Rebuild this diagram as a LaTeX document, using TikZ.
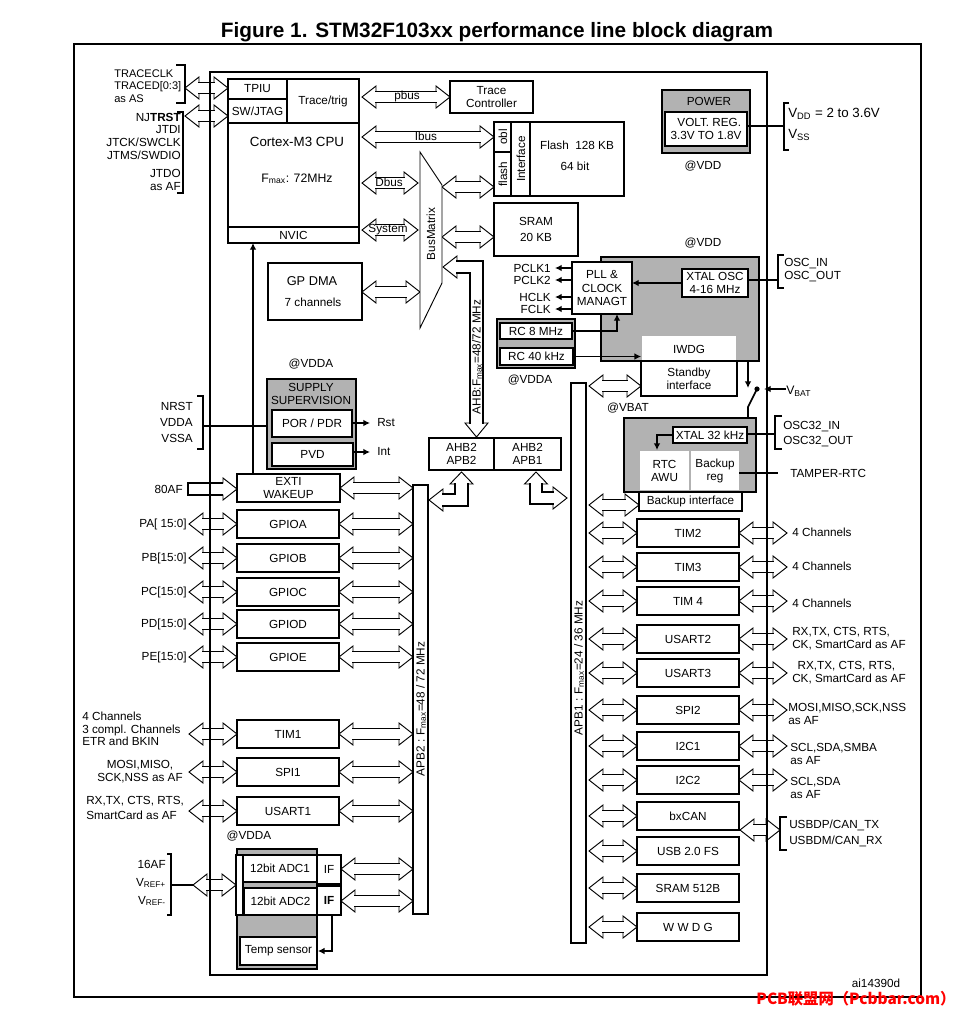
\documentclass[tikz,border=0pt]{standalone}
\usepackage{fontspec}
\setmainfont{Liberation Sans}
\newfontfamily\cjkfont{Noto Sans CJK SC}
\usetikzlibrary{arrows.meta}
\definecolor{gfill}{RGB}{178,178,178}
\newcommand\myfs{\fontsize{8.8}{9.8}\selectfont}
\newcommand\mybox[7][]{\node[box,#1,minimum width={((#5)-(#3))*0.75pt},minimum height={((#6)-(#4))*0.75pt}] (#2) at ({((#3)+(#5))/2},{((#4)+(#6))/2}) {#7};}
\newcommand\hbus[3]{%
 \path[busarr] (#1,#3) -- ({#1+14},{#3-11}) -- ({#1+14},{#3-5.5}) -- ({#2-14},{#3-5.5}) -- ({#2-14},{#3-11}) -- (#2,#3) -- ({#2-14},{#3+11}) -- ({#2-14},{#3+5.5}) -- ({#1+14},{#3+5.5}) -- ({#1+14},{#3+11}) -- cycle;
 \draw[shaft] ({#1+13},{#3-5.5}) -- ({#2-13},{#3-5.5}) ({#1+13},{#3+5.5}) -- ({#2-13},{#3+5.5});}
\begin{document}
\begin{tikzpicture}[x=0.75pt,y=-0.75pt,
 box/.style={draw,line width=1.3pt,fill=white,inner sep=0pt,align=center,font=\myfs},
 lbl/.style={inner sep=0pt,align=center,font=\myfs},
 busarr/.style={draw,fill=white,line width=0.7pt,line join=miter},
 shaft/.style={line width=1.4pt},
 frame/.style={line width=1.4pt},
 wire/.style={line width=1.2pt},
 sig/.style={line width=1.2pt,-{Latex[length=5pt,width=5pt]}},
 brk/.style={line width=1.3pt}]
\useasboundingbox (0,0) rectangle (959,1010);

\node[font=\bfseries\fontsize{15.6}{18}\selectfont,inner sep=0] (title) at (497,32) {Figure 1. STM32F103xx performance line block diagram};
\draw[frame] (74,44) rectangle (921,997);

% ---------- block arrows ----------
\hbus{185}{228}{88}
\hbus{185}{228}{116}
\hbus{362}{450}{97}
\hbus{362}{494}{137}
\hbus{362}{418}{183}
\hbus{362}{418}{230}
\hbus{442}{494}{187}
\hbus{442}{494}{237}
\hbus{362}{420}{292}
\hbus{340}{413}{488}
\hbus{589}{641}{386}
\hbus{589}{639}{505}
\hbus{193}{236}{885}
\hbus{341}{413}{869}
\hbus{341}{413}{901}
\hbus{740}{780}{830}
\foreach \y in {533,567,601,639,673,710,746,780} {\hbus{739}{787}{\y}}
\foreach \y in {524,558,592,624,657,734,772,811} {\hbus{189}{237}{\y}\hbus{339}{413}{\y}}
\foreach \y in {533,567,601,639,673,710,746,780,816,851,888,927} {\hbus{589}{637}{\y}}

% 80AF single arrow
\path[busarr] (188,483) -- (223,483) -- (223,478) -- (237,489) -- (223,500) -- (223,495) -- (188,495) -- cycle;
\draw[shaft] (223,483) -- (188,483) -- (188,495) -- (223,495);

% AHB L arrow
\path[busarr] (443,267) -- (457,256) -- (457,261) -- (483,261) -- (483,423) -- (488,423) -- (476.5,437) -- (465,423) -- (470,423) -- (470,273) -- (457,273) -- (457,278) -- cycle;
\draw[shaft] (456,261) -- (483,261) -- (483,424) (456,273) -- (470,273) -- (470,424);
% APB2 L arrow
\path[busarr] (461.5,472) -- (473,484) -- (468,484) -- (468,506) -- (443,506) -- (443,511) -- (429,500) -- (443,489) -- (443,494) -- (455,494) -- (455,484) -- (450,484) -- cycle;
\draw[shaft] (468,483) -- (468,506) -- (442,506) (455,483) -- (455,494) -- (442,494);
% APB1 L arrow
\path[busarr] (536,472) -- (547.5,484) -- (542,484) -- (542,492) -- (553,492) -- (553,487) -- (567,498) -- (553,509) -- (553,504) -- (530,504) -- (530,484) -- (524.5,484) -- cycle;
\draw[shaft] (542,483) -- (542,492) -- (554,492) (530,483) -- (530,504) -- (554,504);

% ---------- CPU ----------
\mybox{tpiu}{228}{79}{287}{99}{TPIU}
\mybox{swj}{228}{99}{287}{123}{SW/JTAG}
\mybox{trc}{287}{79}{359}{123}{Trace/trig}
\mybox{cpu}{228}{123}{359}{227}{}
\mybox{nvic}{228}{227}{359}{243}{NVIC}
\node[lbl,font=\fontsize{10}{12}\selectfont] (cpun) at (297,142) {Cortex-M3 CPU};
\node[lbl,font=\fontsize{9.2}{11}\selectfont] (fmax) at (297,179) {F\textsubscript{max}: 72MHz};

\node[lbl,align=left,anchor=west,font=\fontsize{8.3}{9.4}\selectfont] (trl) at (114,86) {TRACECLK\\TRACED[0:3]\\as AS};
\draw[brk] (176,65) -- (185,65) -- (185,103) -- (176,103);
\node[lbl,anchor=east] (j1) at (181,117) {NJ\textbf{TRST}};
\node[lbl,anchor=east] (j2) at (181,130) {JTDI};
\node[lbl,anchor=east] (j3) at (181,142) {JTCK/SWCLK};
\node[lbl,anchor=east] (j4) at (181,155) {JTMS/SWDIO};
\node[lbl,anchor=east] (j5) at (181,173) {JTDO};
\node[lbl,anchor=east] (j6) at (181,187) {as AF};
\draw[brk] (177,112) -- (183,112) -- (183,193) -- (177,193);

\mybox{tctl}{450}{81}{533}{113}{Trace\\Controller}
\node[lbl] (pbus) at (407,96) {pbus};
\node[lbl] (ibus) at (426,136) {Ibus};
\node[lbl] (dbus) at (389,182) {Dbus};
\node[lbl] (sysb) at (388,230) {System};

% Flash
\mybox{flash}{494}{122}{624}{196}{}
\mybox{obl}{494}{122}{511}{152}{}
\mybox{fl}{494}{152}{511}{196}{}
\mybox{intf}{511}{122}{530}{196}{}
\node[lbl,rotate=90] (oblt) at (503,137) {obl};
\node[lbl,rotate=90] (flt) at (503,174) {flash};
\node[lbl,rotate=90] (intt) at (521,159) {Interface};
\node[lbl] (flasht) at (577,145) {Flash\ \ 128 KB};
\node[lbl] (flasht2) at (575,166) {64 bit};

% BusMatrix
\draw[line width=0.7pt,fill=white] (420,152) -- (442,185) -- (442,283) -- (420,328) -- cycle;
\node[lbl,rotate=90] (busm) at (431,234) {BusMatrix};
\node[lbl,rotate=90] (ahbl) at (477,357) {AHB:F\textsubscript{max}=48/72 MHz};

\mybox{sram}{494}{203}{578}{256}{SRAM\\[2.5pt]20 KB}
\mybox{dma}{268}{263}{362}{320}{}
\node[lbl,font=\fontsize{9.6}{11}\selectfont] (dmat) at (312,281) {GP DMA};
\node[lbl] (dmat2) at (313,302) {7 channels};

% bridges
\mybox{br2}{429}{438}{494}{470}{AHB2\\APB2}
\mybox{br1}{494}{438}{561}{470}{AHB2\\APB1}

% bus columns
\mybox[line width=1pt]{apb2}{413}{485}{428}{914}{}
\node[lbl,rotate=90] (apb2t) at (421,709) {APB2 : F\textsubscript{max}=48 / 72 MHz};
\mybox[line width=1pt]{apb1}{571}{383}{586}{943}{}
\node[lbl,rotate=90] (apb1t) at (579,668) {APB1 : F\textsubscript{max}=24 / 36 MHz};

% ---------- power ----------
\mybox[fill=gfill]{power}{662}{90}{750}{153}{}
\node[lbl] (powt) at (709,101) {POWER};
\mybox{vreg}{665}{112}{747}{146}{\ \ VOLT. REG.\\3.3V TO 1.8V}
\draw[wire] (747,126) -- (784,126);
\draw[brk] (789,103) -- (784,103) -- (784,150) -- (789,150);
\node[lbl,anchor=west,font=\fontsize{10}{12}\selectfont] (vdd) at (788,114) {V\textsubscript{DD} = 2 to 3.6V};
\node[lbl,anchor=west,font=\fontsize{10}{12}\selectfont] (vss) at (788,135) {V\textsubscript{SS}};
\node[lbl] (atvdd1) at (703,166) {@VDD};
\node[lbl] (atvdd2) at (703,243) {@VDD};

% ---------- clocks ----------
\mybox[fill=gfill]{rcc}{601}{257}{759}{361}{}
\mybox[draw=none]{iwdg}{642}{336}{736}{362}{IWDG}
\mybox{stby}{641}{361}{737}{396}{Standby\\interface}
\mybox{pll}{572}{262}{632}{314}{PLL \&\\CLOCK\\MANAGT}
\mybox{xosc}{682}{269}{748}{297}{XTAL OSC\\4-16 MHz}
\draw[sig] (xosc.west) -- (632,283);
\foreach \t/\y in {PCLK1/268,PCLK2/280,HCLK/297,FCLK/309}{
 \node[lbl,anchor=east] (ck\t) at (551,\y) {\t};
 \draw[sig] (572,\y) -- (555,\y);}
\draw[wire] (748,280) -- (778,280);
\draw[brk] (784,255) -- (778,255) -- (778,288) -- (784,288);
\node[lbl,anchor=west] (oscin) at (784,264) {OSC\_IN};
\node[lbl,anchor=west] (oscout) at (784,277) {OSC\_OUT};

\mybox[fill=gfill]{rcg}{497}{319}{575}{368}{}
\mybox{rc8}{500}{323}{572}{339}{RC 8 MHz}
\mybox{rc40}{500}{348}{573}{365}{RC 40 kHz}
\draw[sig] (rc8.east) -| (617,314);
\draw[sig] (rc40.east) -- (rc40.east -| iwdg.west);
\node[lbl] (atvdda1) at (530,380) {@VDDA};
\node[lbl] (atvbat) at (628,408) {@VBAT};

% VBAT switch
\draw[sig] (748,361) -- (748,388);
\fill (757,389) circle (2.6);
\draw[wire] (757,389) -- (748,407) -- (748,418);
\draw[sig] (786,389) -- (764,389);
\node[lbl,anchor=west,font=\fontsize{9.2}{11}\selectfont] (vbat) at (786,391) {V\textsubscript{BAT}};

% backup domain
\mybox[fill=gfill]{bkp}{624}{418}{756}{492}{}
\mybox{x32}{673}{427}{747}{443}{XTAL 32 kHz}
\mybox[draw=none]{rtc}{640}{451}{689}{490}{RTC\\AWU}
\mybox[draw=none]{breg}{691}{451}{739}{490}{Backup\\reg}
\mybox{bif}{639}{492}{742}{511}{Backup interface}
\draw[sig] (x32.west) -| (657,450);
\draw[wire] (747,434) -- (775,434);
\draw[brk] (782,416) -- (775,416) -- (775,449) -- (782,449);
\node[lbl,anchor=west] (o32in) at (783,427) {OSC32\_IN};
\node[lbl,anchor=west] (o32out) at (783,442) {OSC32\_OUT};
\draw[wire] (739,473) -- (778,473);
\node[lbl,anchor=west] (tamper) at (790,473) {TAMPER-RTC};

% ---------- APB1 peripherals ----------
\foreach \n/\t/\y in {tim2/TIM2/533,tim3/TIM3/567,tim4/TIM 4/601,usart2/USART2/639,usart3/USART3/673,spi2/SPI2/710,itc1/I2C1/746,itc2/I2C2/780,bxcan/bxCAN/816,usb/USB 2.0 FS/851,sramb/SRAM 512B/888,wwdg/W W D G/927}{
 \mybox{\n}{637}{\y-14}{739}{\y+14}{\t}}
\node[lbl,anchor=west] (c2) at (792,532) {4 Channels};
\node[lbl,anchor=west] (c3) at (792,566) {4 Channels};
\node[lbl,anchor=west] (c4) at (792,603) {4 Channels};
\node[lbl,anchor=west,align=left] (u2) at (792,639) {RX,TX, CTS, RTS,\\CK, SmartCard as AF};
\node[lbl,anchor=west,align=left] (u3) at (792,673) {\hspace*{4pt}RX,TX, CTS, RTS,\\CK, SmartCard as AF};
\node[lbl,anchor=west,align=left] (s2) at (788,714) {MOSI,MISO,SCK,NSS\\as AF};
\node[lbl,anchor=west,align=left] (i1) at (790,754) {SCL,SDA,SMBA\\as AF};
\node[lbl,anchor=west,align=left] (i2) at (790,788) {SCL,SDA\\as AF};
\draw[brk] (787,817) -- (780,817) -- (780,850) -- (787,850);
\node[lbl,anchor=west] (usbdp) at (789,825) {USBDP/CAN\_TX};
\node[lbl,anchor=west] (usbdm) at (789,841) {USBDM/CAN\_RX};

% ---------- APB2 side ----------
\mybox{exti}{237}{474}{340}{502}{EXTI\\WAKEUP}
\node[lbl,anchor=east] (af80) at (183,489) {80AF};
\foreach \n/\t/\y/\l in {gpioa/GPIOA/524/{PA[ 15:0]},gpiob/GPIOB/558/{PB[15:0]},gpioc/GPIOC/592/{PC[15:0]},gpiod/GPIOD/624/{PD[15:0]},gpioe/GPIOE/657/{PE[15:0]}}{
 \mybox{\n}{237}{\y-14}{339}{\y+14}{\t}
 \node[lbl,anchor=east] (\n-l) at (187,\y) {\l};}
\mybox{tim1}{237}{720}{339}{748}{TIM1}
\mybox{spi1}{237}{758}{339}{786}{SPI1}
\mybox{usart1}{237}{797}{339}{825}{USART1}
\node[lbl,anchor=west,align=left,font=\fontsize{8.8}{9.4}\selectfont] (t1l) at (82,729) {4 Channels\\3 compl. Channels\\ETR and BKIN};
\node[lbl] (s1l) at (140,772) {MOSI,MISO,\\SCK,NSS as AF};
\node[lbl,anchor=west,align=left] (u1l) at (86,808) {RX,TX, CTS, RTS,\\[2pt]SmartCard as AF};
\node[lbl] (atvdda2) at (249,836) {@VDDA};

% ADC
\mybox[fill=gfill]{adcg}{237}{849}{317}{969}{}
\mybox{adcs}{236}{855}{243}{915}{}
\mybox{adc1}{243}{855}{317}{882}{12bit ADC1}
\mybox{adc2}{244}{888}{317}{915}{12bit ADC2}
\mybox{if1}{317}{855}{341}{884}{IF}
\mybox{if2}{317}{886}{341}{915}{\textbf{IF}}
\mybox{temp}{240}{937}{317}{965}{Temp sensor}
\draw[sig] (332,915) -- (332,951) -- (temp.east);
\draw[brk] (167,854) -- (171,854) -- (171,915) -- (167,915);
\draw[wire] (171,885) -- (193,885);
\node[lbl,anchor=east] (af16) at (166,864) {16AF};
\node[lbl,anchor=east] (vrp) at (166,883) {V\textsubscript{REF+}};
\node[lbl,anchor=east] (vrm) at (166,901) {V\textsubscript{REF-}};

% supply supervision
\node[lbl] (atvdda3) at (311,364) {@VDDA};
\mybox[fill=gfill]{sup}{267}{379}{356}{469}{}
\node[lbl] (supt) at (311,394) {SUPPLY\\SUPERVISION};
\mybox{por}{272}{410}{352}{437}{POR / PDR}
\mybox{pvd}{272}{443}{353}{466}{PVD}
\node[lbl,anchor=west] (rst) at (377,423) {Rst};
\node[lbl,anchor=west] (intl) at (377,452) {Int};
\draw[sig] (352,423) -- (370,423);
\draw[sig] (353,452) -- (370,452);
\draw[brk] (197,396) -- (203,396) -- (203,449) -- (197,449);
\draw[wire] (203,426) -- (sup.west |- 0,426);
\node[lbl,anchor=east] (nrst) at (193,406) {NRST};
\node[lbl,anchor=east] (vdda) at (193,422) {VDDA};
\node[lbl,anchor=east] (vssa) at (193,438) {VSSA};

% EXTI to NVIC
\draw[sig] (253,474) -- (253,243);

% chip frame
\draw[frame] (210,72) rectangle (767,975);

\node[lbl] (ref) at (876,983) {ai14390d};
\node[inner sep=0,text=red,font=\cjkfont\bfseries\fontsize{11.5}{13}\selectfont] (wm) at (856,999) {PCB联盟网（Pcbbar.com）};
\end{tikzpicture}
\end{document}
